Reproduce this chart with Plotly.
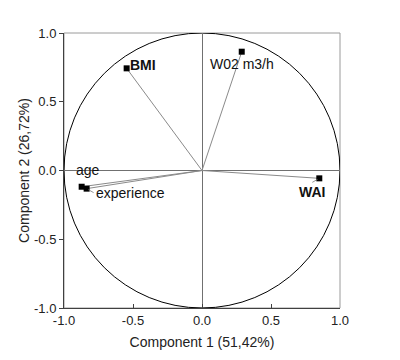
import plotly.graph_objects as go

variables = ["BMI", "W02 m3/h", "age", "experience", "WAI"]
comp1 = [-0.546, 0.288, -0.872, -0.836, 0.850]
comp2 = [0.743, 0.864, -0.118, -0.132, -0.057]
bold = [True, False, False, False, True]
tick_vals = [-1.0, -0.5, 0.0, 0.5, 1.0]
tick_text = ["-1.0", "-0.5", "0.0", "0.5", "1.0"]

FONT = "Liberation Sans, Arial"

fig = go.Figure()

for name, x, y in zip(variables, comp1, comp2):
    fig.add_trace(go.Scatter(x=[0, x], y=[0, y], mode="lines",
                             line=dict(color="#8a8a8a", width=1),
                             hoverinfo="skip", showlegend=False))

fig.add_trace(go.Scatter(x=comp1, y=comp2, mode="markers",
                         marker=dict(symbol="square", size=6, color="black"),
                         showlegend=False, text=variables))

# label placement (pixel offsets relative to each point)
label_cfg = {
    "BMI":        dict(showarrow=False, xanchor="left", yanchor="middle", xshift=1, yshift=3),
    "W02 m3/h":   dict(showarrow=False, xanchor="left", yanchor="middle", xshift=-34, yshift=-12),
    "age":        dict(showarrow=False, xanchor="left", yanchor="middle", xshift=-8, yshift=17),
    "experience": dict(showarrow=True, ax=7, ay=4, xanchor="left", yanchor="middle",
                       arrowhead=0, arrowwidth=0.8, arrowcolor="#777", standoff=2),
    "WAI":        dict(showarrow=True, ax=-7, ay=4, xanchor="center", yanchor="top",
                       arrowhead=0, arrowwidth=0.8, arrowcolor="#777", standoff=2),
}

for name, x, y, b in zip(variables, comp1, comp2, bold):
    fig.add_annotation(x=x, y=y, text=f"<b>{name}</b>" if b else name,
                       font=dict(family=FONT, size=14, color="#111"),
                       **label_cfg[name])

# unit circle
fig.add_shape(type="circle", xref="x", yref="y", x0=-1, y0=-1, x1=1, y1=1,
              line=dict(color="black", width=1), layer="below")
# frame top/right
fig.add_shape(type="rect", xref="paper", yref="paper", x0=0, y0=0, x1=1, y1=1,
              line=dict(color="#9a9a9a", width=1), layer="below")

axis_common = dict(range=[-1, 1], tickvals=tick_vals, ticktext=tick_text,
                   showgrid=False, zeroline=True, zerolinecolor="#707070",
                   zerolinewidth=1, showline=True, linecolor="#404040",
                   linewidth=1, ticklen=4, tickcolor="#404040",
                   tickfont=dict(family=FONT, size=13, color="#222"),
                   title_font=dict(family=FONT, size=14, color="#222"))

fig.update_xaxes(**axis_common, ticks="inside", title_text="Component 1 (51,42%)",
                 title_standoff=10)
fig.update_yaxes(**axis_common, ticks="outside", title_text="Component 2 (26,72%)",
                 title_standoff=1)

fig.update_layout(width=400, height=360,
                  margin=dict(l=56, r=68, t=25, b=60),
                  plot_bgcolor="white", paper_bgcolor="white",
                  showlegend=False)

fig.write_html("out.html")
